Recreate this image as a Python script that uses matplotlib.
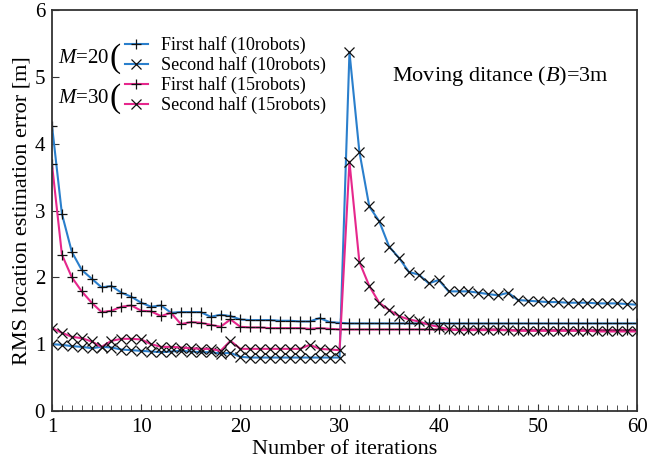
import numpy as np
import matplotlib
matplotlib.use("Agg")
import matplotlib.pyplot as plt
from matplotlib.ticker import MultipleLocator, FixedLocator

plt.rcParams['font.family'] = ['Liberation Serif', 'DejaVu Serif']
plt.rcParams['mathtext.fontset'] = 'custom'
plt.rcParams['mathtext.it'] = 'Liberation Serif:italic'
plt.rcParams['mathtext.rm'] = 'Liberation Serif'

iters = np.arange(1, 61)

# first half, M=20 (10 robots)
first_10 = [4.27, 2.95, 2.38, 2.11, 1.98, 1.85, 1.87, 1.77, 1.71, 1.62,
            1.56, 1.58, 1.47, 1.48, 1.48, 1.48, 1.41, 1.44, 1.42, 1.37,
            1.36, 1.36, 1.36, 1.35, 1.35, 1.34, 1.34, 1.39, 1.33, 1.32,
            1.31, 1.31, 1.31, 1.31, 1.31, 1.31, 1.31, 1.31, 1.31, 1.31,
            1.31, 1.31, 1.31, 1.31, 1.31, 1.31, 1.31, 1.31, 1.31, 1.31,
            1.31, 1.31, 1.31, 1.31, 1.31, 1.31, 1.31, 1.31, 1.31, 1.31]
# second half, M=20 (10 robots)
second_10 = [1.00, 0.99, 0.97, 0.96, 0.94, 0.96, 0.95, 0.92, 0.91, 0.90,
             0.89, 0.88, 0.89, 0.90, 0.89, 0.88, 0.88, 0.86, 0.87, 0.81,
             0.80, 0.80, 0.80, 0.80, 0.80, 0.80, 0.80, 0.80, 0.80, 0.80,
             5.37, 3.88, 3.06, 2.84, 2.46, 2.29, 2.08, 2.04, 1.91, 1.96,
             1.79, 1.79, 1.79, 1.77, 1.75, 1.73, 1.77, 1.66, 1.65, 1.64,
             1.63, 1.63, 1.62, 1.62, 1.62, 1.61, 1.61, 1.61, 1.60, 1.59]
# first half, M=30 (15 robots)
first_15 = [3.69, 2.34, 2.00, 1.79, 1.62, 1.48, 1.50, 1.56, 1.58, 1.50,
            1.49, 1.42, 1.47, 1.30, 1.33, 1.32, 1.29, 1.26, 1.37, 1.26,
            1.25, 1.25, 1.24, 1.24, 1.24, 1.24, 1.23, 1.24, 1.23, 1.22,
            1.22, 1.22, 1.22, 1.22, 1.22, 1.22, 1.22, 1.22, 1.22, 1.22,
            1.22, 1.22, 1.22, 1.22, 1.22, 1.22, 1.21, 1.21, 1.21, 1.21,
            1.21, 1.21, 1.21, 1.21, 1.21, 1.21, 1.21, 1.21, 1.21, 1.21]
# second half, M=30 (15 robots)
second_15 = [1.24, 1.17, 1.11, 1.09, 1.04, 0.96, 1.05, 1.08, 1.08, 1.07,
             1.00, 0.96, 0.96, 0.95, 0.94, 0.93, 0.93, 0.90, 1.05, 0.93,
             0.93, 0.93, 0.93, 0.93, 0.93, 0.93, 0.99, 0.93, 0.92, 0.91,
             3.73, 2.23, 1.87, 1.62, 1.51, 1.42, 1.37, 1.34, 1.29, 1.26,
             1.22, 1.21, 1.21, 1.21, 1.21, 1.21, 1.21, 1.20, 1.20, 1.20,
             1.20, 1.20, 1.20, 1.20, 1.20, 1.19, 1.19, 1.19, 1.19, 1.19]

labels = ['First half (10robots)', 'Second half (10robots)',
          'First half (15robots)', 'Second half (15robots)']

blue = '#2a7fcc'
pink = '#e6278c'

fig = plt.figure(figsize=(6.47, 4.66), dpi=100)
ax = fig.add_axes([52/647, 55/466, 585/647, 401/466])

mk = dict(markersize=7, markeredgecolor='#111111', markeredgewidth=0.9)
l1, = ax.plot(iters, first_10, color=blue, lw=1.5, marker='+', **mk)
l2, = ax.plot(iters, second_10, color=blue, lw=1.5, marker='x', **mk)
l3, = ax.plot(iters, first_15, color=pink, lw=1.5, marker='+', **mk)
l4, = ax.plot(iters, second_15, color=pink, lw=1.5, marker='x', **mk)

ax.set_xlim(1, 60)
ax.set_ylim(0, 6)
ax.xaxis.set_major_locator(FixedLocator([1, 10, 20, 30, 40, 50, 60]))
ax.xaxis.set_minor_locator(MultipleLocator(1))
ax.yaxis.set_major_locator(MultipleLocator(1))
ax.tick_params(which='both', direction='in', top=False, right=False,
               labelsize=15, color='#333333')
ax.tick_params(which='major', length=5, pad=5)
ax.tick_params(which='minor', length=4)
for s in ax.spines.values():
    s.set_linewidth(1.3)
    s.set_color('#333333')

ax.set_xlabel('Number of iterations', fontsize=16, labelpad=2)
ax.set_ylabel('RMS location estimation error [m]', fontsize=16, labelpad=2)

leg = ax.legend([l1, l2, l3, l4], labels, loc='upper left',
                bbox_to_anchor=(0.124, 0.935), frameon=False, fontsize=13,
                handlelength=1.3, handletextpad=0.7, labelspacing=0.12,
                borderpad=0, borderaxespad=0)

ax.text(0.01, 0.88, r'$M$=20', transform=ax.transAxes, fontsize=15,
        va='center', ha='left')
ax.text(0.01, 0.78, r'$M$=30', transform=ax.transAxes, fontsize=15,
        va='center', ha='left')
ax.text(0.098, 0.88, '(', transform=ax.transAxes, fontsize=24,
        va='center', ha='left')
ax.text(0.098, 0.78, '(', transform=ax.transAxes, fontsize=24,
        va='center', ha='left')

ax.text(0.581, 0.835, r'Moving ditance ($B$)=3m', transform=ax.transAxes,
        fontsize=16, va='center', ha='left')

fig.savefig('out.png', dpi=100)
